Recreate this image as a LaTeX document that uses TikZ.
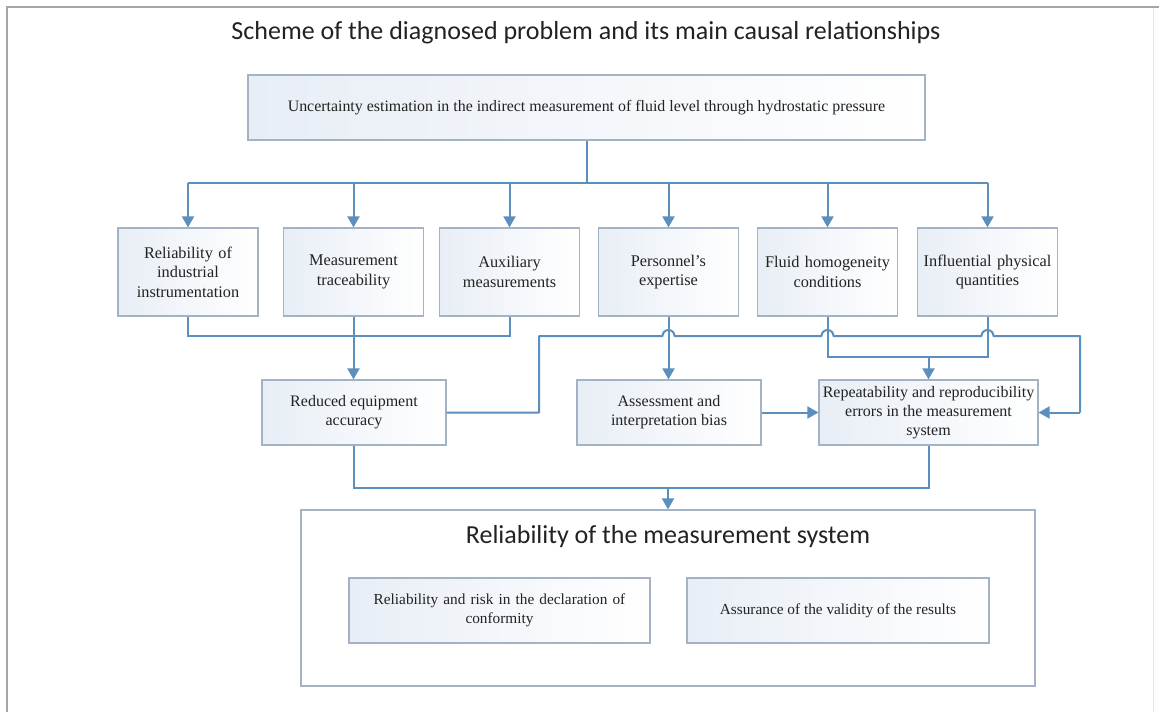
\documentclass[tikz,border=0pt]{standalone}
\usepackage{fontspec}
\setmainfont{Liberation Serif}
\newfontfamily\headfont{Carlito}
\usetikzlibrary{arrows.meta}
\definecolor{lnc}{HTML}{5B8FBE}
\definecolor{bdc}{HTML}{A3B3C3}
\definecolor{boxl}{HTML}{E8EEF6}
\definecolor{txc}{HTML}{222222}
\begin{document}
\begin{tikzpicture}[x=1pt,y=-1pt,
  bx/.style={draw=bdc, line width=1.2pt, left color=boxl, right color=white, text=txc, align=center, inner sep=2pt},
  rowbox/.style={bx, minimum width=140pt, minimum height=88pt, text width=134pt, font=\fontsize{16.3}{19.5}\selectfont},
  midbox/.style={bx, minimum height=65pt, font=\fontsize{16}{19}\selectfont},
  ln/.style={draw=lnc, line width=2pt},
  arr/.style={ln, -{Triangle[width=12pt,length=11pt]}}]
\useasboundingbox (0,0) rectangle (1159,712);
\draw[black!35, line width=2pt] (7,712) -- (7,7) -- (1159,7);
\draw[black!10, line width=1pt] (1153,8) -- (1153,712);

\node[text=txc, font=\headfont\fontsize{26}{30}\selectfont] (title) at (586,33) {Scheme of the diagnosed problem and its main causal relationships};

\node[bx, minimum width=677pt, minimum height=65pt, font=\fontsize{15.9}{18}\selectfont] (top) at (586.5,107.5) {Uncertainty estimation in the indirect measurement of fluid level through hydrostatic pressure};

\node[rowbox] (r1) at (188,272) {Reliability of\\ industrial\\ instrumentation};
\node[rowbox] (r2) at (353.5,272) {Measurement\\ traceability};
\node[rowbox] (r3) at (509.5,272) {Auxiliary\\ measurements};
\node[rowbox] (r4) at (668.5,272) {Personnel's\\ expertise};
\node[rowbox] (r5) at (827.5,272) {Fluid homogeneity\\ conditions};
\node[rowbox] (r6) at (987.5,272) {Influential physical\\ quantities};

\node[midbox, minimum width=184pt] (red) at (354,412.5) {Reduced equipment\\ accuracy};
\node[midbox, minimum width=184pt] (ass) at (669,412.5) {Assessment and\\ interpretation bias};
\node[midbox, minimum width=219pt] (rep) at (928.5,412.5) {Repeatability and reproducibility\\ errors in the measurement\\ system};

\node[draw=bdc, line width=1.2pt, fill=white, minimum width=734pt, minimum height=176pt] (big) at (668,598) {};
\node[text=txc, font=\headfont\fontsize{26}{30}\selectfont] (bigt) at (668,537) {Reliability of the measurement system};
\node[bx, minimum width=301pt, minimum height=65pt, text width=290pt, font=\fontsize{15.3}{19}\selectfont] (c1) at (499.5,610.5) {Reliability and risk in the declaration of\\ conformity};
\node[bx, minimum width=302pt, minimum height=65pt, font=\fontsize{15.3}{19}\selectfont] (c2) at (838,610.5) {Assurance of the validity of the results};

% top bus
\coordinate (bc) at (586.5,183);
\draw[ln] (top.south) -- (bc);
\draw[ln] (r1.north |- bc) -- (r6.north |- bc);
\foreach \n in {r1,r2,r3,r4,r5,r6} \draw[arr] (\n.north |- bc) -- (\n.north);

% left group to reduced accuracy
\coordinate (lb) at (188,336);
\draw[ln] (r1.south) -- (r1.south |- lb) -- (r3.south |- lb) -- (r3.south);
\draw[arr] (r2.south) -- (r2.south |- red.north);

% personnel to assessment
\draw[arr] (r4.south) -- (r4.south |- ass.north);

% fluid + influential to repeatability
\coordinate (fj) at (827.5,357);
\draw[ln] (r5.south) -- (fj) -- (r6.south |- fj) -- (r6.south);
\draw[arr] (rep.north |- fj) -- (rep.north);

% reduced accuracy long route to repeatability (with jumps)
\coordinate (ra) at (539,412.5);
\coordinate (rb) at (1080,336);
\draw[ln, line join=round] (red.east) -- (ra) -- (539,336) -- (662.5,336) arc[start angle=180,end angle=360,radius=6]
  -- (821.5,336) arc[start angle=180,end angle=360,radius=6]
  -- (981.5,336) arc[start angle=180,end angle=360,radius=6]
  -- (rb) -- (rb |- rep.east);
\draw[arr] (rb |- rep.east) -- (rep.east);

% assessment to repeatability
\draw[arr] (ass.east) -- (rep.west);

% bottom bus
\coordinate (bb) at (354,488);
\draw[ln] (red.south) -- (bb) -- (rep.south |- bb) -- (rep.south);
\draw[arr] (big.north |- bb) -- (big.north);
\end{tikzpicture}
\end{document}
